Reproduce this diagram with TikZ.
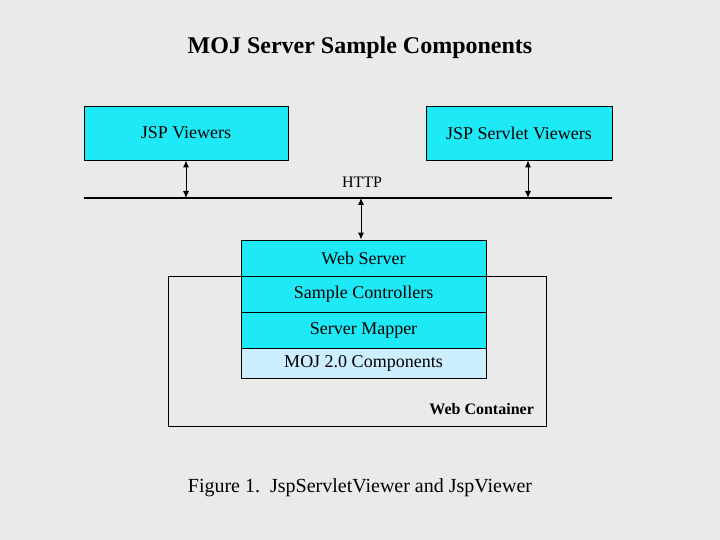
\documentclass[tikz,border=0pt]{standalone}
\usepackage{fontspec}
\setmainfont{Liberation Serif}
\usetikzlibrary{arrows.meta,calc}
\usepackage{xcolor}
\definecolor{bggray}{RGB}{234,234,234}
\definecolor{boxcyan}{RGB}{30,233,246}
\definecolor{mojblue}{RGB}{204,238,255}

\begin{document}
\begin{tikzpicture}[x=1pt,y=-1pt,
		box/.style={draw,line width=0.9pt,fill=boxcyan,inner sep=0pt,font=\fontsize{18}{20}\selectfont},
		layer/.style={box,minimum width=245,minimum height=36},
		link/.style={{Latex[length=7pt,width=6pt]}-{Latex[length=7pt,width=6pt]},line width=0.9pt}]
		\fill[bggray] (0,0) rectangle (720,540);
		\useasboundingbox (0,0) rectangle (720,540);
		\node[font=\fontsize{24}{28}\selectfont\bfseries] (title) at (360,48) {MOJ Server Sample Components};
		
		% viewers on top
		\node[box,minimum width=204,minimum height=54] (jspv) at (186,133) {JSP Viewers};
		\node[box,minimum width=186,minimum height=54] (jspsv) at (519,133) {JSP Servlet Viewers};
		
		% http line
		\coordinate (httpL) at (84,198);
		\coordinate (httpR) at (612,198);
		\draw[line width=2pt] (httpL) -- (httpR);
		\node[font=\fontsize{16}{18}\selectfont] (http) at (362,182) {HTTP};
		
		% web container
		\node[draw,line width=0.8pt,minimum width=378,minimum height=150,inner sep=0pt] (wcont) at (357,351) {};
		\node[font=\fontsize{16}{18}\selectfont\bfseries,anchor=south east] (wclabel) at ($(wcont.south east)+(-9,-8)$) {Web Container};
		
		% server stack
		\node[layer] (ws) at (363.5,258) {Web Server};
		\node[layer] (sc) at (363.5,294) {Sample Controllers};
		\node[layer] (sm) at (363.5,330) {Server Mapper};
		\node[layer,fill=mojblue,minimum height=30] (moj) at (363.5,363) {MOJ 2.0 Components};
		
		\coordinate (a1) at (jspv.south);
		\coordinate (a2) at ($(jspsv.south)+(9,0)$);
		\coordinate (a3) at ($(ws.north)+(-2.5,0)$);
		\draw[link] (a1) -- (a1 |- httpL);
		\draw[link] (a2) -- (a2 |- httpL);
		\draw[link] (a3 |- httpL) -- (a3);
		
		\node[font=\fontsize{20}{24}\selectfont] (caption) at (360,488) {Figure 1.\ \ JspServletViewer and JspViewer};
\end{tikzpicture}
\end{document}
